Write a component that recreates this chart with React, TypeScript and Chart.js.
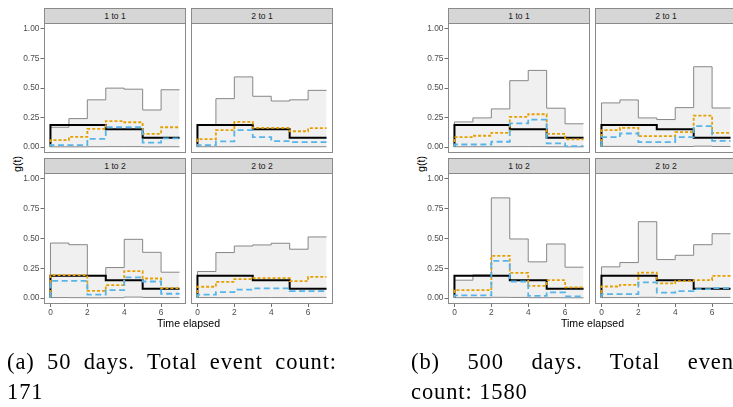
import React, { useEffect, useRef } from 'react';
import { Chart, registerables } from 'chart.js';

Chart.register(...registerables);

// ---- data -----------------------------------------------------------------
// interval boundaries of the piecewise-constant g(t)
const TIME_BREAKS = [0, 1, 2, 3, 4, 5, 6, 7];
const X_TICKS = [0, 2, 4, 6];
const Y_TICKS = [0, 0.25, 0.5, 0.75, 1];
// facet order: top-left, top-right, bottom-left, bottom-right
const FACETS = ['1 to 1', '2 to 1', '1 to 2', '2 to 2'];

// true g(t), identical in every facet
const TRUE_G = [0.187, 0.187, 0.187, 0.15, 0.15, 0.079, 0.079];

// 50 days of data
const UPPER_50 = [
  [0.168, 0.241, 0.4, 0.499, 0.49, 0.314, 0.485],
  [0.19, 0.41, 0.594, 0.43, 0.39, 0.4, 0.48],
  [0.462, 0.448, 0.19, 0.256, 0.493, 0.384, 0.217],
  [0.223, 0.382, 0.437, 0.446, 0.46, 0.41, 0.513],
];
const LOWER_50 = [
  [0.002, 0.002, 0.003, 0.004, 0.004, 0.002, 0.003],
  [0.003, 0.003, 0.004, 0.004, 0.003, 0.003, 0.003],
  [0.004, 0.003, 0.002, 0.003, 0.008, 0.005, 0.004],
  [0.004, 0.003, 0.003, 0.004, 0.004, 0.004, 0.005],
];
const DOTTED_50 = [
  [0.059, 0.087, 0.154, 0.22, 0.21, 0.112, 0.168],
  [0.067, 0.143, 0.213, 0.162, 0.162, 0.134, 0.16],
  [0.192, 0.192, 0.061, 0.109, 0.226, 0.164, 0.084],
  [0.095, 0.136, 0.159, 0.167, 0.167, 0.142, 0.178],
];
const DASHED_50 = [
  [0.017, 0.017, 0.07, 0.168, 0.168, 0.037, 0.073],
  [0.017, 0.048, 0.143, 0.084, 0.05, 0.042, 0.042],
  [0.145, 0.145, 0.028, 0.067, 0.173, 0.139, 0.036],
  [0.028, 0.05, 0.07, 0.081, 0.081, 0.058, 0.058],
];

// 500 days of data
const UPPER_500 = [
  [0.213, 0.247, 0.323, 0.562, 0.649, 0.329, 0.197],
  [0.374, 0.399, 0.247, 0.233, 0.334, 0.68, 0.331],
  [0.15, 0.195, 0.841, 0.496, 0.304, 0.454, 0.259],
  [0.262, 0.298, 0.641, 0.323, 0.359, 0.448, 0.54],
];
const LOWER_500 = [
  [0.003, 0.003, 0.003, 0.004, 0.004, 0.003, 0.002],
  [0.006, 0.006, 0.004, 0.004, 0.005, 0.008, 0.005],
  [0.003, 0.003, 0.006, 0.005, 0.003, 0.003, 0.002],
  [0.004, 0.004, 0.006, 0.004, 0.004, 0.005, 0.005],
];
const DOTTED_500 = [
  [0.084, 0.096, 0.121, 0.256, 0.278, 0.112, 0.065],
  [0.143, 0.163, 0.093, 0.093, 0.126, 0.267, 0.121],
  [0.067, 0.067, 0.354, 0.212, 0.103, 0.15, 0.089],
  [0.097, 0.111, 0.214, 0.123, 0.142, 0.15, 0.187],
];
const DASHED_500 = [
  [0.022, 0.022, 0.045, 0.2, 0.233, 0.031, 0.008],
  [0.084, 0.115, 0.042, 0.042, 0.084, 0.177, 0.053],
  [0.022, 0.022, 0.312, 0.139, 0.019, 0.047, 0.014],
  [0.033, 0.033, 0.131, 0.045, 0.058, 0.075, 0.084],
];

const CAPTION_A = ['(a) 50 days. Total event count:', '171'];
const CAPTION_B = ['(b) 500 days. Total event', 'count: 1580'];

// ---- layout ---------------------------------------------------------------
const FIG_DX = [0, 404];
const COL_LEFT = [44, 191];
const ROW_TOP = [23, 173];
const ROW_H = [130, 131];
const STRIP_TOP = [8, 158];
const STRIP_H = 15;
const PANEL_W = 142;
const Y_AXIS_W = 44;
const X_AXIS_H = 14;

const SANS = '"Liberation Sans", Arial, sans-serif';
const SERIF = '"Liberation Serif", "Times New Roman", serif';
const TICK_FONT = { family: SANS, size: 8.4 };
const TICK_COLOR = '#4d4d4d';

// step function: rises from 0 at t = 0, holds each value over its interval
function stepPoints(values: number[]) {
  const pts = [{ x: TIME_BREAKS[0], y: 0 }];
  values.forEach((v, i) => pts.push({ x: TIME_BREAKS[i], y: v }));
  pts.push({ x: TIME_BREAKS[values.length], y: values[values.length - 1] });
  return pts;
}

const panelBorder = {
  id: 'panelBorder',
  afterDatasetsDraw(chart: any) {
    const { ctx, chartArea: a } = chart;
    ctx.save();
    ctx.strokeStyle = '#8a8a8a';
    ctx.lineWidth = 1;
    ctx.strokeRect(a.left + 0.5, a.top + 0.5, a.right - a.left - 1, a.bottom - a.top - 1);
    ctx.restore();
  },
};

type PanelProps = {
  left: number;
  top: number;
  height: number;
  showY: boolean;
  showX: boolean;
  upper: number[];
  lower: number[];
  dotted: number[];
  dashed: number[];
};

function Panel({ left, top, height, showY, showX, upper, lower, dotted, dashed }: PanelProps) {
  const ref = useRef<HTMLCanvasElement>(null);
  const yw = showY ? Y_AXIS_W : 0;
  const xh = showX ? X_AXIS_H : 0;
  const cw = yw + PANEL_W;
  const ch = height + xh;

  useEffect(() => {
    const line = { pointRadius: 0, stepped: true, fill: false, borderCapStyle: 'butt' as const };
    const chart = new Chart(ref.current as HTMLCanvasElement, {
      type: 'line',
      data: {
        datasets: [
          {
            ...line,
            data: stepPoints(upper),
            borderColor: '#7a7a7a',
            borderWidth: 0.9,
            backgroundColor: '#f0f0f0',
            fill: '+1',
            order: 3,
          },
          { ...line, data: stepPoints(lower), borderColor: '#7a7a7a', borderWidth: 0.9, order: 4 },
          { ...line, data: stepPoints(TRUE_G), borderColor: '#000000', borderWidth: 2, order: 2 },
          {
            ...line,
            data: stepPoints(dotted),
            borderColor: '#E69F00',
            borderWidth: 1.8,
            borderDash: [3, 2],
            order: 1,
          },
          {
            ...line,
            data: stepPoints(dashed),
            borderColor: '#56B4E9',
            borderWidth: 1.8,
            borderDash: [6, 3.5],
            order: 0,
          },
        ],
      },
      options: {
        animation: false,
        responsive: false,
        maintainAspectRatio: false,
        events: [],
        layout: { padding: 0 },
        plugins: {
          legend: { display: false },
          tooltip: { enabled: false },
          filler: { drawTime: 'beforeDatasetsDraw' },
        },
        scales: {
          x: {
            type: 'linear',
            min: -0.35,
            max: 7.35,
            display: showX,
            afterBuildTicks: (s: any) => {
              s.ticks = X_TICKS.map((v) => ({ value: v }));
            },
            afterFit: (s: any) => {
              s.height = xh;
              s.paddingLeft = 0;
              s.paddingRight = 0;
            },
            grid: { drawOnChartArea: false, drawTicks: true, tickLength: 3, color: TICK_COLOR, lineWidth: 0.8 },
            border: { display: false },
            ticks: { padding: 1, font: TICK_FONT, color: TICK_COLOR, maxRotation: 0, autoSkip: false },
          },
          y: {
            type: 'linear',
            min: -0.05,
            max: 1.05,
            display: showY,
            afterBuildTicks: (s: any) => {
              s.ticks = Y_TICKS.map((v) => ({ value: v }));
            },
            afterFit: (s: any) => {
              s.width = yw;
              s.paddingTop = 0;
              s.paddingBottom = 0;
            },
            grid: { drawOnChartArea: false, drawTicks: true, tickLength: 3.5, color: TICK_COLOR, lineWidth: 0.8 },
            border: { display: false },
            ticks: {
              padding: 1,
              font: TICK_FONT,
              color: TICK_COLOR,
              autoSkip: false,
              callback: (v: any) => Number(v).toFixed(2),
            },
          },
        },
      } as any,
      plugins: [panelBorder],
    });
    return () => chart.destroy();
  }, [upper, lower, dotted, dashed, showX, showY, xh, yw]);

  return (
    <canvas
      ref={ref}
      width={cw}
      height={ch}
      style={{ position: 'absolute', left: left - yw, top, width: cw, height: ch }}
    />
  );
}

type FigureProps = {
  dx: number;
  upper: number[][];
  lower: number[][];
  dotted: number[][];
  dashed: number[][];
  caption: string[];
};

const captionStyle = {
  position: 'absolute' as const,
  font: `22.5px ${SERIF}`,
  letterSpacing: '0.9px',
  lineHeight: '22px',
  whiteSpace: 'nowrap' as const,
  color: '#000',
};

function FacetFigure({ dx, upper, lower, dotted, dashed, caption }: FigureProps) {
  const plotLeft = dx + COL_LEFT[0];
  const plotRight = dx + COL_LEFT[1] + PANEL_W;
  const plotTop = ROW_TOP[0];
  const plotBottom = ROW_TOP[1] + ROW_H[1];
  return (
    <>
      {FACETS.map((name, i) => {
        const col = i % 2;
        const row = Math.floor(i / 2);
        const left = dx + COL_LEFT[col];
        return (
          <React.Fragment key={name}>
            <div
              style={{
                position: 'absolute',
                left,
                top: STRIP_TOP[row],
                width: PANEL_W,
                height: STRIP_H + 1,
                boxSizing: 'border-box',
                background: '#d6d6d6',
                border: '1px solid #8a8a8a',
                color: '#1a1a1a',
                font: `8.6px ${SANS}`,
                lineHeight: `${STRIP_H - 1}px`,
                textAlign: 'center',
              }}
            >
              {name}
            </div>
            <Panel
              left={left}
              top={ROW_TOP[row]}
              height={ROW_H[row]}
              showY={col === 0}
              showX={row === 1}
              upper={upper[i]}
              lower={lower[i]}
              dotted={dotted[i]}
              dashed={dashed[i]}
            />
          </React.Fragment>
        );
      })}
      <div
        style={{
          position: 'absolute',
          left: dx + 17,
          top: (plotTop + plotBottom) / 2,
          transform: 'translate(-50%, -50%) rotate(-90deg)',
          font: `10.6px ${SANS}`,
          color: '#000',
          whiteSpace: 'nowrap',
        }}
      >
        g(t)
      </div>
      <div
        style={{
          position: 'absolute',
          left: (plotLeft + plotRight) / 2,
          top: 323,
          transform: 'translate(-50%, -50%)',
          font: `10.6px ${SANS}`,
          color: '#000',
          whiteSpace: 'nowrap',
        }}
      >
        Time elapsed
      </div>
      <div
        style={{
          ...captionStyle,
          left: dx + 7,
          top: 351,
          width: 330,
          textAlign: 'justify',
          textAlignLast: 'justify',
        }}
      >
        {caption[0]}
      </div>
      <div style={{ ...captionStyle, left: dx + 7, top: 380.5 }}>{caption[1]}</div>
    </>
  );
}

export default function App() {
  return (
    <div
      style={{
        position: 'fixed',
        left: 0,
        top: 0,
        width: 733,
        height: 407,
        overflow: 'hidden',
        background: '#ffffff',
      }}
    >
      <FacetFigure
        dx={FIG_DX[0]}
        upper={UPPER_50}
        lower={LOWER_50}
        dotted={DOTTED_50}
        dashed={DASHED_50}
        caption={CAPTION_A}
      />
      <FacetFigure
        dx={FIG_DX[1]}
        upper={UPPER_500}
        lower={LOWER_500}
        dotted={DOTTED_500}
        dashed={DASHED_500}
        caption={CAPTION_B}
      />
    </div>
  );
}
